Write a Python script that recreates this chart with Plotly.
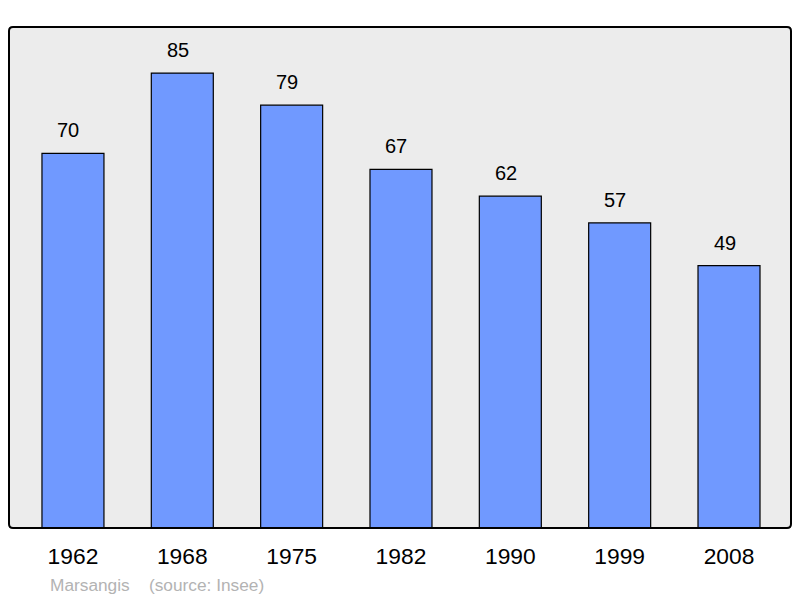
import plotly.graph_objects as go

years = ["1962", "1968", "1975", "1982", "1990", "1999", "2008"]
population = [70, 85, 79, 67, 62, 57, 49]

L, R, T, B = 9, 9, 27, 70
W, H = 800, 598
FONT = "Liberation Sans, Arial, sans-serif"

x_idx = list(range(len(years)))

fig = go.Figure()
fig.add_trace(go.Bar(
    x=x_idx, y=population, width=0.567,
    marker=dict(color="#7099ff", line=dict(color="#000000", width=1.2)),
    hoverinfo="skip",
))

for i, v in zip(x_idx, population):
    fig.add_annotation(x=i, y=v, text=str(v), showarrow=False, yanchor="bottom",
                       yshift=10, xshift=-4.5, font=dict(size=20, color="#000000", family=FONT))

# rounded frame in pixel-converted paper coords
pw, ph = W - L - R, H - T - B
r = 4
rx, ry = r / pw, r / ph
path = (f"M {rx},0 L {1-rx},0 Q 1,0 1,{ry} L 1,{1-ry} Q 1,1 {1-rx},1 "
        f"L {rx},1 Q 0,1 0,{1-ry} L 0,{ry} Q 0,0 {rx},0 Z")
fig.add_shape(type="path", xref="paper", yref="paper", path=path,
              line=dict(color="#000000", width=2), layer="above")

fig.add_annotation(xref="paper", yref="paper", x=(48 - L) / pw, y=-(585 - 528) / ph,
                   xanchor="left", yanchor="middle", showarrow=False,
                   text="Marsangis \u00a0\u00a0\u00a0(source: Insee)",
                   font=dict(size=17.3, color="#b3b3b3", family=FONT))

fig.update_layout(
    width=W, height=H,
    margin=dict(l=L, r=R, t=T, b=B),
    paper_bgcolor="#ffffff", plot_bgcolor="#ececec",
    showlegend=False,
    font=dict(family=FONT),
)
fig.update_xaxes(range=[-0.585, 6.567], tickmode="array", tickvals=x_idx, ticktext=years,
                 showgrid=False, zeroline=False, ticks="outside", ticklen=8, tickcolor="rgba(0,0,0,0)",
                 tickfont=dict(size=22.8, color="#000000"))
fig.update_yaxes(range=[0, 93.6], showgrid=False, zeroline=False, showticklabels=False)

fig.write_html("out.html", post_script="document.body.style.margin='0';",
               config={"displayModeBar": False})
